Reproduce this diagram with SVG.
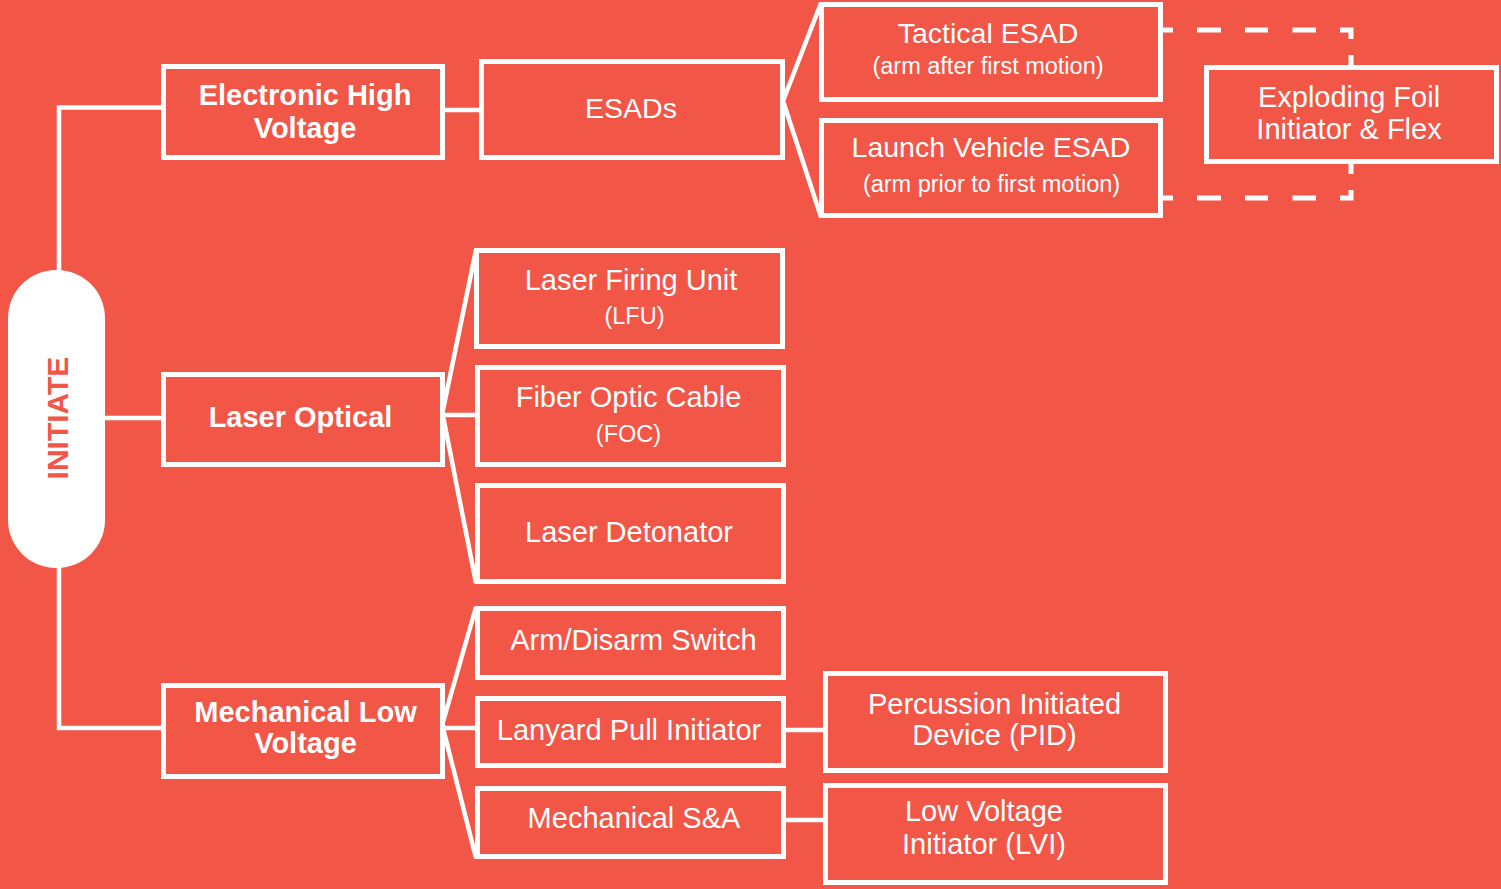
<svg xmlns="http://www.w3.org/2000/svg" width="1501" height="889" viewBox="0 0 1501 889">
<style>
.box{fill:none;stroke:#fff;stroke-width:5}
.ln{fill:none;stroke:#fff;stroke-width:4.5}
.ds{fill:none;stroke:#fff;stroke-width:5}
text{font-family:"Liberation Sans",Arial,sans-serif;fill:#fff;text-anchor:middle}
.b{font-weight:bold;font-size:29px}
.r{font-size:29px}
.s{font-size:23.5px}
</style>
<rect width="1501" height="889" fill="#F15647"/>
<g id="connectors">
<path class="ln" d="M59,272 V107.5 H163"/>
<path class="ln" d="M103,418 H163"/>
<path class="ln" d="M59,566 V728 H163"/>
<path class="ln" d="M443,110 H481"/>
<path class="ln" d="M783,101 L821,3"/>
<path class="ln" d="M783,101 L821,217"/>
<path class="ln" d="M443,410 L476,250"/>
<path class="ln" d="M443,415 H477"/>
<path class="ln" d="M443,416 L476,583"/>
<path class="ln" d="M443,722 L476,607"/>
<path class="ln" d="M443,728 H477"/>
<path class="ln" d="M443,728 L476,858"/>
<path class="ln" d="M784,730 H825"/>
<path class="ln" d="M784,820 H825"/>
<g id="dashed">
<path class="ds" d="M1163,30 H1173 M1197,30 H1221 M1245,30 H1268 M1292.5,30 H1316 M1340,30 H1351 V39 M1351,55 V66"/>
<path class="ds" d="M1163,198 H1173 M1197,198 H1221 M1245,198 H1268 M1292.5,198 H1316 M1340,198 H1351 V190 M1351,174 V162"/>
</g>
</g>
<g id="initiate">
<rect x="8" y="270" width="97" height="298" rx="48" ry="48" fill="#fff"/>
<text transform="translate(68,418) rotate(-90)" style="font-weight:bold;font-size:30px;fill:#F15647">INITIATE</text>
</g>
<g id="ehv">
<rect class="box" x="163.5" y="66.5" width="279" height="91"/>
<text class="b" x="305" y="105">Electronic High</text>
<text class="b" x="305" y="137.5">Voltage</text>
</g>
<g id="esads">
<rect class="box" x="481.5" y="61.5" width="301" height="96"/>
<text class="r" x="631" y="117.5" style="font-size:28.5px">ESADs</text>
</g>
<g id="tactical">
<rect class="box" x="821.5" y="4.5" width="339" height="95"/>
<text class="r" x="988" y="42.5" style="font-size:28.5px">Tactical ESAD</text>
<text class="s" x="988" y="73.5">(arm after first motion)</text>
</g>
<g id="launch">
<rect class="box" x="821.5" y="120.5" width="339" height="95"/>
<text class="r" x="991" y="156.5" style="font-size:28.5px">Launch Vehicle ESAD</text>
<text class="s" x="991.5" y="191.5">(arm prior to first motion)</text>
</g>
<g id="efi">
<rect class="box" x="1206.5" y="67.5" width="290" height="94"/>
<text class="r" x="1349" y="106.5">Exploding Foil</text>
<text class="r" x="1349" y="138.5">Initiator &amp; Flex</text>
</g>
<g id="laser-optical">
<rect class="box" x="163.5" y="374.5" width="279" height="90"/>
<text class="b" x="300.5" y="426.5">Laser Optical</text>
</g>
<g id="lfu">
<rect class="box" x="476.5" y="250.5" width="306" height="96"/>
<text class="r" x="631" y="290">Laser Firing Unit</text>
<text class="s" x="634.5" y="324">(LFU)</text>
</g>
<g id="foc">
<rect class="box" x="477.5" y="367.5" width="306" height="97"/>
<text class="r" x="628.5" y="407">Fiber Optic Cable</text>
<text class="s" x="628.5" y="441.5">(FOC)</text>
</g>
<g id="ld">
<rect class="box" x="477.5" y="485.5" width="306" height="96"/>
<text class="r" x="629" y="541.5">Laser Detonator</text>
</g>
<g id="mlv">
<rect class="box" x="163.5" y="685.5" width="279" height="91"/>
<text class="b" x="305.5" y="721.5">Mechanical Low</text>
<text class="b" x="305.5" y="753">Voltage</text>
</g>
<g id="arm">
<rect class="box" x="477.5" y="608.5" width="306" height="69"/>
<text class="r" x="633.5" y="650">Arm/Disarm Switch</text>
</g>
<g id="lanyard">
<rect class="box" x="477.5" y="698.5" width="306" height="67"/>
<text class="r" x="629" y="739.5">Lanyard Pull Initiator</text>
</g>
<g id="msa">
<rect class="box" x="477.5" y="788.5" width="306" height="68"/>
<text class="r" x="634" y="827.5">Mechanical S&amp;A</text>
</g>
<g id="pid">
<rect class="box" x="825.5" y="673.5" width="340" height="97"/>
<text class="r" x="994.5" y="713.5">Percussion Initiated</text>
<text class="r" x="994.5" y="745">Device (PID)</text>
</g>
<g id="lvi">
<rect class="box" x="825.5" y="785.5" width="340" height="97"/>
<text class="r" x="984" y="821">Low Voltage</text>
<text class="r" x="984" y="853.5">Initiator (LVI)</text>
</g>
</svg>
